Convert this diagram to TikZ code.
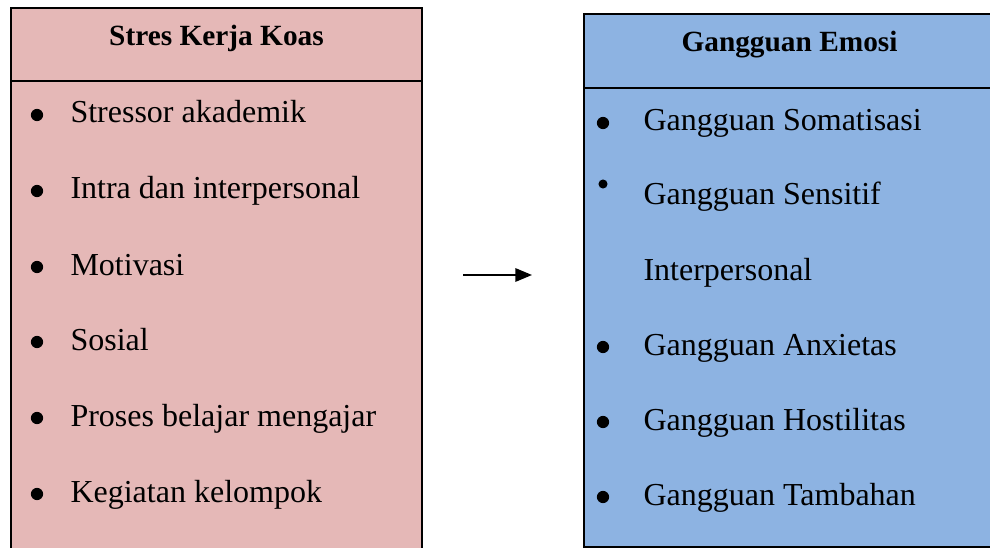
\documentclass[tikz,border=0pt]{standalone}
\usepackage{fontspec}
\setmainfont{Liberation Serif}
\usetikzlibrary{arrows.meta}
\definecolor{koaspink}{HTML}{E5B8B7}
\definecolor{emosiblue}{HTML}{8DB3E2}
\tikzset{
  kotak/.style={draw=black, line width=0.6pt},
  judul/.style={anchor=base, inner sep=0pt, font=\fontsize{11}{13}\selectfont\bfseries},
  isi/.style={anchor=base west, inner sep=0pt, font=\fontsize{12}{14}\selectfont},
}
\begin{document}
\begin{tikzpicture}[x=0.375pt, y=-0.375pt, line join=miter]
  \useasboundingbox (0,0) rectangle (990,548);
  \clip (0,0) rectangle (990,548);
  % kotak kiri
  \draw[kotak, fill=koaspink] (11,8) rectangle (422,570);
  \draw[kotak] (11,81) -- (422,81);
  \node[judul] (stres) at (216.5,46) {Stres Kerja Koas};
  \foreach \y/\teks [count=\i] in {123/Stressor akademik, 199/Intra dan interpersonal,
      275/Motivasi, 350/Sosial, 426/Proses belajar mengajar, 502/Kegiatan kelompok}
  {
    \fill (37,\y-8) circle (2.3pt);
    \node[isi] (kiri\i) at (70,\y) {\teks};
  }
  % kotak kanan
  \draw[kotak, fill=emosiblue] (584,14) rectangle (1000,547);
  \draw[kotak] (584,88) -- (1000,88);
  \node[judul] (emosi) at (789.5,52) {Gangguan Emosi};
  \foreach \y/\teks [count=\i] in {131/Gangguan Somatisasi, 355/Gangguan Anxietas,
      430/Gangguan Hostilitas, 505/Gangguan Tambahan}
  {
    \fill (603,\y-8) circle (2.3pt);
    \node[isi] (kanan\i) at (643,\y) {\teks};
  }
  \fill (603,184) circle (1.7pt);
  \node[isi] (sensitif) at (643,205) {Gangguan Sensitif};
  \node[isi] (interp) at (643,280) {Interpersonal};
  % panah
  \coordinate (panahA) at (463,275);
  \coordinate (panahB) at (532,275);
  \draw[-{Triangle[length=6.2pt, width=5pt]}, line width=0.7pt] (panahA) -- (panahB);
\end{tikzpicture}
\end{document}
